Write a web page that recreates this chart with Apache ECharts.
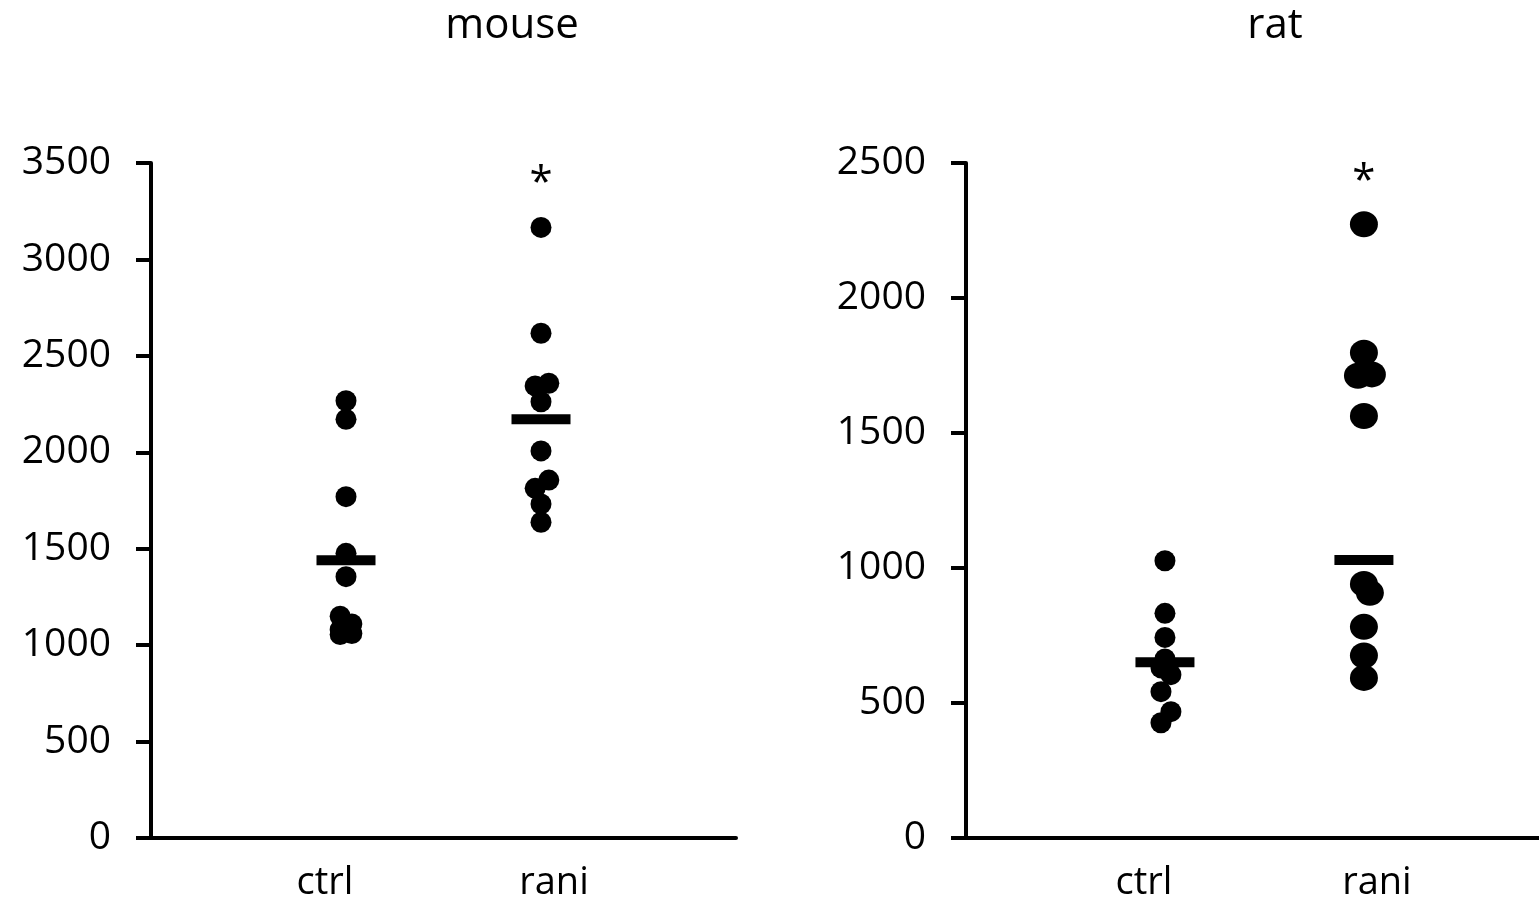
<!DOCTYPE html>
<html>
<head>
<meta charset="utf-8">
<script src="https://cdn.jsdelivr.net/npm/echarts@6/dist/echarts.min.js"></script>
<style>
  html, body { margin: 0; padding: 0; background: #fff; }
  #chart { width: 1539px; height: 907px; }
</style>
</head>
<body>
<div id="chart"></div>
<script>
// panel titles and group labels
const panels = ['mouse', 'rat']
const groups = ['ctrl', 'rani']

// mouse: individual points (x = group position, small jitter as in the figure)
const mouseCtrlX = [1, 1, 1, 1, 1, 0.97, 1.03, 0.97, 1.03, 0.97]
const mouseCtrlY = [2267, 2171, 1770, 1476, 1355, 1150, 1110, 1080, 1060, 1055]
const mouseRaniX = [2, 2, 1.97, 2.04, 2, 2, 2.04, 1.97, 2, 2]
const mouseRaniY = [3166, 2617, 2344, 2358, 2262, 2007, 1856, 1813, 1732, 1637]
const mouseMeans = [1440, 2171]
const mouseStar = 3438

// rat
const ratCtrlX = [1, 1, 1, 1, 0.98, 1.03, 0.98, 1.03, 0.98]
const ratCtrlY = [1027, 832, 743, 663, 630, 605, 542, 468, 427]
const ratRaniX = [2, 2, 1.97, 2.04, 2, 2, 2.03, 2, 2, 2]
const ratRaniY = [2273, 1797, 1712, 1717, 1563, 941, 908, 782, 676, 593]
const ratMeans = [651, 1030]
const ratStar = 2463

// y axis ranges
const mouseMax = 3500
const ratMax = 2500
const yStep = 500

const FONT = '"Open Sans", "DejaVu Sans", sans-serif'
const zip = (xs, ys) => xs.map((x, i) => [x, ys[i]])

const chart = echarts.init(document.getElementById('chart'))

function xAxis(gridIndex, max) {
  return {
    type: 'value',
    gridIndex,
    min: 0,
    max,
    interval: 1,
    axisLine: { show: true, onZero: false, lineStyle: { color: '#000', width: 4 } },
    axisTick: { show: false },
    splitLine: { show: false },
    axisLabel: {
      margin: 26,
      showMaxLabel: false,
      formatter(v) {
        if (v === 1) return '{c|' + groups[0] + '}'
        if (v === 2) return '{r|' + groups[1] + '}'
        return ''
      },
      rich: {
        c: { fontFamily: FONT, fontSize: 38, color: '#000', padding: [0, 42, 0, 0] },
        r: { fontFamily: FONT, fontSize: 38, color: '#000', padding: [0, 0, 0, 26] },
      },
    },
  }
}

function yAxis(gridIndex, max) {
  return {
    type: 'value',
    gridIndex,
    min: 0,
    max,
    interval: yStep,
    axisLine: { show: true, lineStyle: { color: '#000', width: 4 } },
    axisTick: { show: true, inside: false, length: 15, lineStyle: { color: '#000', width: 4 } },
    splitLine: { show: false },
    axisLabel: {
      margin: 40,
      color: '#000',
      fontFamily: FONT,
      fontSize: 39,
      formatter: v => String(v),
    },
  }
}

function dots(idx, data, size) {
  return {
    type: 'scatter',
    xAxisIndex: idx,
    yAxisIndex: idx,
    data,
    symbol: 'circle',
    symbolSize: size,
    itemStyle: { color: '#000', opacity: 1 },
    z: 3,
  }
}

function means(idx, vals) {
  return {
    type: 'scatter',
    xAxisIndex: idx,
    yAxisIndex: idx,
    data: vals.map((v, i) => [i + 1, v]),
    symbol: 'rect',
    symbolSize: [59, 10],
    itemStyle: { color: '#000', opacity: 1 },
    z: 4,
  }
}

function star(idx, v) {
  return {
    type: 'scatter',
    xAxisIndex: idx,
    yAxisIndex: idx,
    data: [[2, v]],
    symbolSize: 1,
    itemStyle: { color: '#fff', opacity: 1 },
    label: {
      show: true,
      position: 'inside',
      formatter: '*',
      color: '#000',
      opacity: 1,
      fontFamily: FONT,
      fontSize: 42,
      offset: [0, 9],
    },
  }
}

const titleStyle = { fontFamily: FONT, fontSize: 42, fontWeight: 'normal', color: '#000' }

const option = {
  animation: false,
  backgroundColor: '#fff',
  title: [
    { text: panels[0], left: 507, top: 0, textAlign: 'center', textStyle: titleStyle },
    { text: panels[1], left: 1270, top: 0, textAlign: 'center', textStyle: titleStyle },
  ],
  grid: [
    { left: 151, top: 163, width: 585, height: 675 },
    { left: 966, top: 163, right: 0, height: 675 },
  ],
  xAxis: [xAxis(0, 3), xAxis(1, 2.88)],
  yAxis: [yAxis(0, mouseMax), yAxis(1, ratMax)],
  series: [
    dots(0, zip(mouseCtrlX, mouseCtrlY), 21),
    dots(0, zip(mouseRaniX, mouseRaniY), 21),
    means(0, mouseMeans),
    star(0, mouseStar),
    dots(1, zip(ratCtrlX, ratCtrlY), 21),
    dots(1, zip(ratRaniX, ratRaniY), [28, 26]),
    means(1, ratMeans),
    star(1, ratStar),
  ],
}

chart.setOption(option)
</script>
</body>
</html>
